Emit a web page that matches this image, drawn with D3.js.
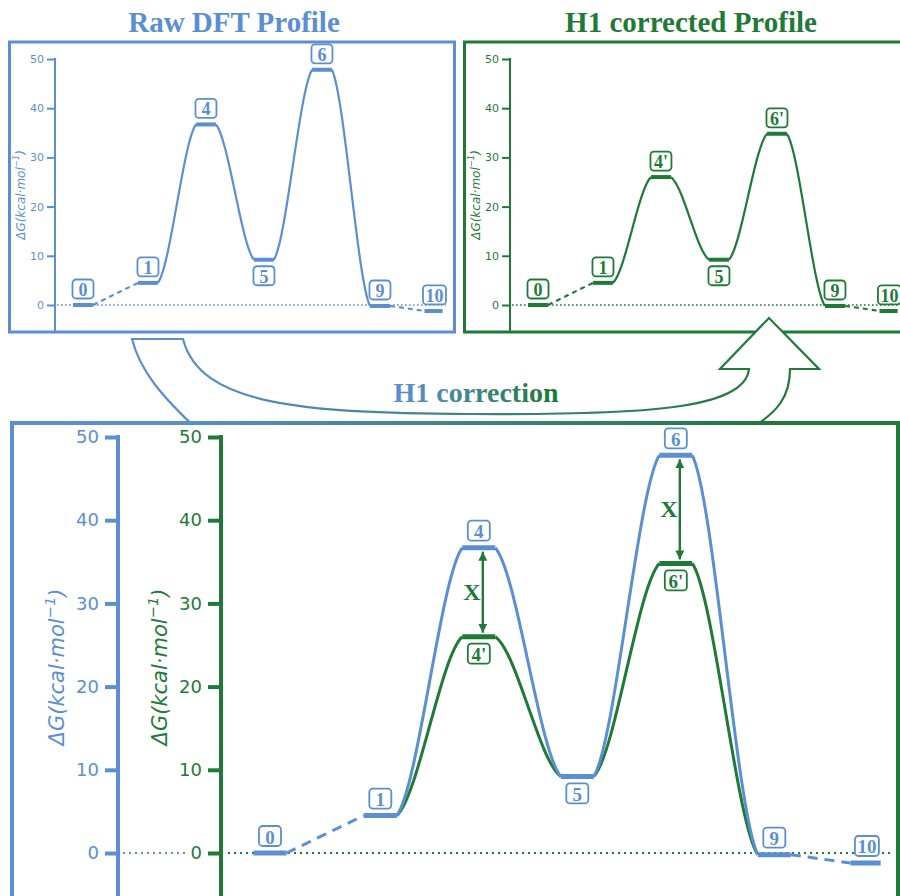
<!DOCTYPE html>
<html>
<head>
<meta charset="utf-8">
<script src="https://cdn.jsdelivr.net/npm/d3@7"></script>
<style>
body { margin: 0; background: #fff; }
svg { display: block; }
</style>
</head>
<body>
<div id="vis"></div>
<script>
// energy profile data (kcal/mol)
const levels = ["0", "1", "4", "5", "6", "9", "10"];
const levelsH1 = ["0", "1", "4'", "5", "6'", "9", "10"];
const xPos = [0, 1.12, 2.12, 3.12, 4.12, 5.12, 6.06];
const dGraw = [0, 4.5, 36.7, 9.2, 47.8, -0.2, -1.2];
const dGh1 = [0, 4.5, 26.0, 9.2, 34.8, -0.2, -1.2];
const links = ["dash", "curve", "curve", "curve", "curve", "dash"];
const shifted = [2, 4];
const yTicks = [0, 10, 20, 30, 40, 50];

const W = 900, H = 896;
const BLUE = "#5b8fd1", GREEN = "#1f7a38";
const SERIF = "'Liberation Serif', 'Times New Roman', serif";
const SANS = "'DejaVu Sans', sans-serif";

const svg = d3.select("#vis").append("svg")
    .attr("width", W)
    .attr("height", H);

const defs = svg.append("defs");

function gradient(id, x1, x2) {
    const gr = defs.append("linearGradient")
        .attr("id", id)
        .attr("gradientUnits", "userSpaceOnUse")
        .attr("x1", x1).attr("x2", x2)
        .attr("y1", 0).attr("y2", 0);
    gr.append("stop").attr("offset", 0).attr("stop-color", BLUE);
    gr.append("stop").attr("offset", 1).attr("stop-color", GREEN);
}
gradient("arrowGrad", 160, 770);
gradient("textGrad", 400, 555);

defs.append("marker")
    .attr("id", "head")
    .attr("viewBox", "0 0 10 10")
    .attr("refX", 10).attr("refY", 5)
    .attr("markerWidth", 9).attr("markerHeight", 10)
    .attr("markerUnits", "userSpaceOnUse")
    .attr("orient", "auto-start-reverse")
    .append("path")
    .attr("d", "M0,0 L10,5 L0,10 Z")
    .attr("fill", GREEN);

let clipId = 0;

function drawAxis(g, y, ax, color, o) {
    const axis = g.append("g")
        .attr("transform", `translate(${ax},0)`)
        .call(d3.axisLeft(y).tickValues(yTicks).tickSize(o.tick).tickPadding(o.pad));
    axis.select(".domain").remove();
    axis.selectAll(".tick line").attr("stroke", color).attr("stroke-width", o.tw);
    axis.selectAll(".tick text")
        .attr("fill", color)
        .attr("font-size", o.font)
        .attr("font-family", SANS);
    g.append("line")
        .attr("x1", ax).attr("x2", ax)
        .attr("y1", y(50) - o.tw / 2).attr("y2", o.yEnd)
        .attr("stroke", color)
        .attr("stroke-width", o.lw);
}

function yLabel(g, lx, ly, color, size) {
    const t = g.append("text")
        .attr("transform", `translate(${lx},${ly}) rotate(-90)`)
        .attr("text-anchor", "middle")
        .attr("dominant-baseline", "central")
        .attr("font-family", SANS)
        .attr("font-style", "italic")
        .attr("font-size", size)
        .attr("fill", color);
    t.append("tspan").text("\u0394G(kcal\u00b7mol");
    t.append("tspan").attr("dy", -size * 0.4).attr("font-size", size * 0.7).text("\u22121");
    t.append("tspan").attr("dy", size * 0.4).text(")");
}

function zeroLine(g, y, xa, xb, color, w, dash) {
    g.append("line")
        .attr("x1", xa).attr("x2", xb)
        .attr("y1", y(0)).attr("y2", y(0))
        .attr("stroke", color)
        .attr("stroke-width", w)
        .attr("stroke-dasharray", dash);
}

// smooth S-shaped link between two bar ends, slightly slanted at the ends
function sLink(p0, p1) {
    const dx = p1[0] - p0[0], dy = p1[1] - p0[1];
    const p = d3.path();
    p.moveTo(p0[0], p0[1]);
    p.bezierCurveTo(p0[0] + dx / 3, p0[1] + dy * 0.11,
                    p1[0] - dx / 3, p1[1] - dy * 0.11,
                    p1[0], p1[1]);
    return p.toString();
}

function profile(g, x, y, names, vals, color, o) {
    clipId += 1;
    defs.append("clipPath").attr("id", "clip" + clipId)
        .append("rect")
        .attr("x", 0).attr("y", 0)
        .attr("width", x(6.2)).attr("height", H);

    const lines = g.append("g").attr("clip-path", `url(#clip${clipId})`);
    const hw = o.bw;

    links.forEach((k, i) => {
        const p0 = [x(xPos[i]) + hw, y(vals[i])];
        const p1 = [x(xPos[i + 1]) - hw, y(vals[i + 1])];
        if (k === "dash") {
            if (!o.dashes) return;
            lines.append("line")
                .attr("x1", p0[0]).attr("y1", p0[1])
                .attr("x2", p1[0]).attr("y2", p1[1])
                .attr("stroke", color)
                .attr("stroke-width", o.lw)
                .attr("stroke-dasharray", o.dash);
        } else {
            lines.append("path")
                .attr("d", sLink(p0, p1))
                .attr("fill", "none")
                .attr("stroke", color)
                .attr("stroke-width", o.lw);
        }
    });

    o.bars.forEach(i => {
        lines.append("line")
            .attr("x1", x(xPos[i]) - hw).attr("x2", x(xPos[i]) + hw)
            .attr("y1", y(vals[i])).attr("y2", y(vals[i]))
            .attr("stroke", color)
            .attr("stroke-width", o.bh);
    });

    o.labels.forEach(i => {
        const below = o.below(i);
        const cx = x(xPos[i]);
        const cy = y(vals[i]) + (below ? o.off : -o.off);
        const lg = g.append("g");
        const rect = lg.append("rect");
        const txt = lg.append("text")
            .attr("x", cx).attr("y", cy + 1)
            .attr("text-anchor", "middle")
            .attr("dominant-baseline", "central")
            .attr("font-family", SERIF)
            .attr("font-weight", "bold")
            .attr("font-size", o.fs)
            .attr("fill", color)
            .text(names[i]);
        const bw = Math.max(txt.node().getBBox().width + 5, o.minW);
        rect.attr("x", cx - bw / 2).attr("y", cy - o.boxH / 2)
            .attr("width", bw).attr("height", o.boxH)
            .attr("rx", 3.5)
            .attr("fill", "#fff")
            .attr("stroke", color)
            .attr("stroke-width", 1.8);
    });
}

// ---------- top panels ----------
function topPanel(ox, color, names, vals, title, titleX) {
    const g = svg.append("g");
    g.append("text")
        .attr("x", titleX).attr("y", 32)
        .attr("text-anchor", "middle")
        .attr("font-family", SERIF)
        .attr("font-weight", "bold")
        .attr("font-size", 29)
        .attr("fill", color)
        .text(title);

    g.append("rect")
        .attr("x", 9.5 + ox).attr("y", 42)
        .attr("width", 445).attr("height", 290)
        .attr("fill", "#fff")
        .attr("stroke", color)
        .attr("stroke-width", 3);

    const x = d3.scaleLinear().domain([0, 1]).range([83 + ox, 141 + ox]);
    const y = d3.scaleLinear().domain([0, 50]).range([305, 59]);

    drawAxis(g, y, 55 + ox, color, {tick: 8, tw: 2, font: 11, pad: 3, lw: 2, yEnd: 332});
    yLabel(g, 21 + ox, 195, color, 12);
    zeroLine(g, y, 57 + ox, 446 + ox, color, 1.6, "1.6,2.4");

    profile(g, x, y, names, vals, color, {
        lw: 2.2, bw: 10, bh: 4, dash: "5,4", dashes: true,
        bars: d3.range(levels.length),
        labels: d3.range(levels.length),
        below: i => i === 3,
        fs: 18, boxH: 19, minW: 21, off: 16
    });
}

topPanel(0, BLUE, levels, dGraw, "Raw DFT Profile", 234);
topPanel(455, GREEN, levelsH1, dGh1, "H1 corrected Profile", 691);

// ---------- big curved arrow ----------
svg.append("path")
    .attr("d", "M132,339 L183,339 C200,405 300,413 470,414 C640,415 745,410 749,369 " +
               "L720,369 L769,318 L819,369 L790,369 C790,395 780,412 745,432 " +
               "L200,432 C160,395 140,370 132,339 Z")
    .attr("fill", "#fff")
    .attr("stroke", "url(#arrowGrad)")
    .attr("stroke-width", 2.2);

svg.append("text")
    .attr("x", 476).attr("y", 402)
    .attr("text-anchor", "middle")
    .attr("font-family", SERIF)
    .attr("font-weight", "bold")
    .attr("font-size", 28)
    .attr("fill", "url(#textGrad)")
    .text("H1 correction");

// ---------- bottom combined panel ----------
svg.append("rect")
    .attr("x", 12).attr("y", 423)
    .attr("width", 886).attr("height", 520)
    .attr("fill", "#fff")
    .attr("stroke", "url(#arrowGrad)")
    .attr("stroke-width", 4);

const gb = svg.append("g");
const xb = d3.scaleLinear().domain([0, 1]).range([270, 368.5]);
const yb = d3.scaleLinear().domain([0, 50]).range([853, 437]);

drawAxis(gb, yb, 118, BLUE, {tick: 13, tw: 4, font: 18, pad: 6, lw: 4, yEnd: H + 5});
drawAxis(gb, yb, 221, GREEN, {tick: 13, tw: 4, font: 18, pad: 6, lw: 4, yEnd: H + 5});
yLabel(gb, 57, 667, BLUE, 21);
yLabel(gb, 160, 667, GREEN, 21);
zeroLine(gb, yb, 123, 186, BLUE, 2.2, "2,4");
zeroLine(gb, yb, 228, 894, GREEN, 2.2, "2,4");

const bottomOpts = {
    lw: 3, bw: 16.5, bh: 5, dash: "10,7",
    fs: 19, boxH: 20, minW: 22, off: 17
};

profile(gb, xb, yb, levelsH1, dGh1, GREEN, Object.assign({}, bottomOpts, {
    dashes: false, bars: shifted, labels: shifted, below: () => true
}));
profile(gb, xb, yb, levels, dGraw, BLUE, Object.assign({}, bottomOpts, {
    dashes: true,
    bars: d3.range(levels.length).filter(i => !shifted.includes(i)).concat(shifted),
    labels: d3.range(levels.length),
    below: i => i === 3
}));

// correction arrows "X"
shifted.forEach(i => {
    const ax = xb(xPos[i]) + 4;
    gb.append("line")
        .attr("x1", ax).attr("x2", ax)
        .attr("y1", yb(dGraw[i]) + 4)
        .attr("y2", yb(dGh1[i]) - 4)
        .attr("stroke", GREEN)
        .attr("stroke-width", 2.4)
        .attr("marker-start", "url(#head)")
        .attr("marker-end", "url(#head)");
    gb.append("text")
        .attr("x", ax - 11)
        .attr("y", (yb(dGraw[i]) + yb(dGh1[i])) / 2)
        .attr("text-anchor", "middle")
        .attr("dominant-baseline", "central")
        .attr("font-family", SERIF)
        .attr("font-weight", "bold")
        .attr("font-size", 24)
        .attr("fill", GREEN)
        .text("X");
});
</script>
</body>
</html>
